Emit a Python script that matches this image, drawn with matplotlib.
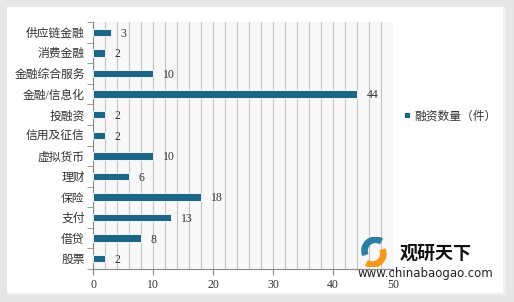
# -*- coding: utf-8 -*-
import matplotlib.pyplot as plt
from matplotlib.patches import Rectangle, Wedge
import numpy as np

plt.rcParams['font.family'] = ['Liberation Serif', 'Noto Sans CJK SC', 'DejaVu Sans']

# données (de haut en bas)
categories = ['供应链金融', '消费金融', '金融综合服务', '金融/信息化', '投融资', '信用及征信',
              '虚拟货币', '理财', '保险', '支付', '借贷', '股票']
valeurs = [3, 2, 10, 44, 2, 2, 10, 6, 18, 13, 8, 2]
serie = '融资数量（件）'
couleur = '#1c6686'

fig = plt.figure(figsize=(5.14, 3.02), dpi=100)
fig.patch.set_facecolor('#e6e6e6')
# panneau blanc avec ombre
fig.add_artist(Rectangle((0.016, 0.022), 0.968, 0.955, transform=fig.transFigure,
                         facecolor='#efefef', edgecolor='none', zorder=0))
fig.add_artist(Rectangle((0.013, 0.030), 0.965, 0.947, transform=fig.transFigure,
                         facecolor='white', edgecolor='none', zorder=0))

ax = fig.add_axes([0.181, 0.109, 0.584, 0.818])
ax.set_facecolor('#f8f8f8')
y = np.arange(len(categories))
bars = ax.barh(y, valeurs, height=0.36, color=couleur, edgecolor='white',
               linewidth=0.6, label=serie, zorder=3)
ax.set_ylim(len(categories) - 0.5, -0.5)
ax.set_xlim(0, 50)
ax.set_yticks(y)
ax.set_yticklabels(categories, fontsize=8.5, color='#333333')
ax.set_yticks(np.arange(-0.5, len(categories)), minor=True)
ax.tick_params(axis='y', which='major', length=0, pad=6)
ax.tick_params(axis='y', which='minor', length=4, color='#888888')
ax.set_xticks(np.arange(0, 51, 10))
ax.set_xticks(np.arange(0, 51, 2), minor=True)
ax.tick_params(axis='x', which='major', length=4, color='#888888', labelsize=8.5,
               labelcolor='#333333')
ax.tick_params(axis='x', which='minor', length=0)
ax.grid(axis='x', which='both', color='#c4c4c4', linewidth=0.8, zorder=0)
for s in ['top', 'right']:
    ax.spines[s].set_visible(False)
for s in ['left', 'bottom']:
    ax.spines[s].set_color('#888888')

for rect, v in zip(bars, valeurs):
    ax.annotate(str(v), (rect.get_width(), rect.get_y() + rect.get_height() / 2),
                xytext=(7, -1), textcoords='offset points', va='center', ha='left',
                fontsize=8.5, color='#333333')

fig.legend(handles=[bars], labels=[serie], loc='center left',
           bbox_to_anchor=(0.765, 0.615), frameon=False, fontsize=8.5,
           handlelength=0.5, handleheight=0.5, handletextpad=0.4, labelcolor='#333333')

# filigrane
logo = fig.add_axes([0.695, 0.115, 0.065, 0.1])
logo.set_xlim(-1, 1)
logo.set_ylim(-1, 1)
logo.set_aspect('equal')
logo.axis('off')
logo.add_patch(Wedge((0.1, 0.1), 0.9, 60, 200, width=0.35, color='#2a7fa6'))
logo.add_patch(Wedge((-0.1, -0.1), 0.9, 240, 20, width=0.35, color='#f39a1c'))
fig.text(0.778, 0.16, '观研天下', fontsize=13, fontweight='bold', color='#111111',
         family=['Noto Sans CJK SC'], va='center')
fig.text(0.695, 0.095, 'www.chinabaogao.com', fontsize=8.5, color='#222222',
         family=['DejaVu Sans'], va='center')

fig.savefig('out.png', dpi=100, facecolor=fig.get_facecolor())
